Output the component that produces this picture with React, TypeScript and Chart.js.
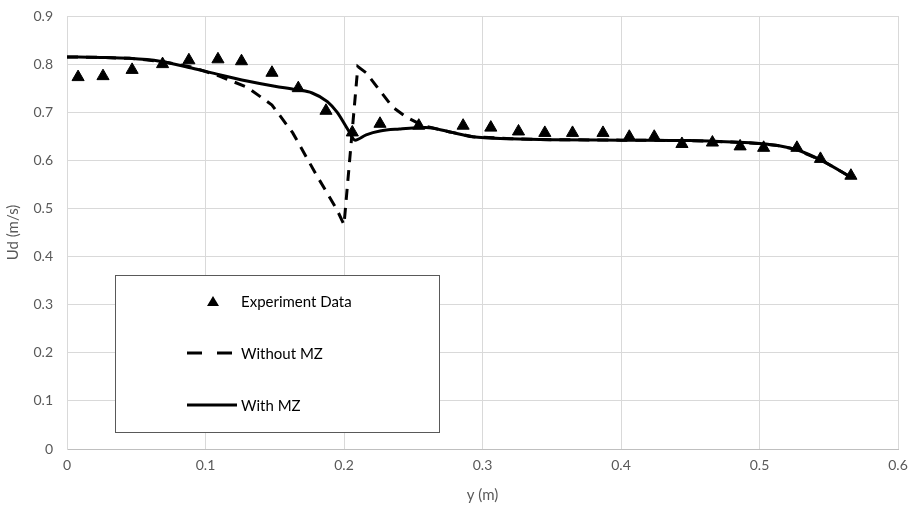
import React, { useEffect, useRef } from "react";
import { Chart, registerables } from "chart.js";
Chart.register(...registerables);

// Experiment data
const expY = [0.008, 0.026, 0.047, 0.069, 0.088, 0.109, 0.126, 0.148, 0.167, 0.187, 0.206, 0.226, 0.254, 0.286, 0.306, 0.326, 0.345, 0.365, 0.387, 0.406, 0.424, 0.444, 0.466, 0.486, 0.503, 0.527, 0.544, 0.566];
const expU = [0.773, 0.775, 0.788, 0.8, 0.808, 0.81, 0.806, 0.782, 0.75, 0.703, 0.658, 0.676, 0.672, 0.672, 0.668, 0.66, 0.657, 0.657, 0.657, 0.649, 0.649, 0.634, 0.637, 0.629, 0.626, 0.626, 0.603, 0.568];

// Without MZ
const noMzY = [0, 0.024, 0.045, 0.067, 0.09, 0.11, 0.13, 0.148, 0.163, 0.18, 0.195, 0.2, 0.21, 0.216, 0.235, 0.245, 0.257, 0.275, 0.293, 0.32, 0.35, 0.4, 0.45, 0.48, 0.5, 0.515, 0.527, 0.546, 0.566];
const noMzU = [0.815, 0.814, 0.812, 0.806, 0.794, 0.775, 0.752, 0.715, 0.657, 0.57, 0.497, 0.466, 0.795, 0.782, 0.711, 0.69, 0.672, 0.66, 0.649, 0.645, 0.643, 0.642, 0.641, 0.638, 0.635, 0.63, 0.622, 0.598, 0.565];

// With MZ
const mzY = [0, 0.024, 0.045, 0.067, 0.09, 0.11, 0.13, 0.15, 0.165, 0.177, 0.188, 0.195, 0.203, 0.208, 0.216, 0.226, 0.24, 0.259, 0.275, 0.293, 0.32, 0.35, 0.4, 0.45, 0.48, 0.5, 0.515, 0.527, 0.546, 0.566];
const mzU = [0.815, 0.814, 0.812, 0.806, 0.792, 0.778, 0.765, 0.754, 0.747, 0.74, 0.722, 0.7, 0.663, 0.642, 0.653, 0.661, 0.665, 0.668, 0.66, 0.649, 0.645, 0.643, 0.642, 0.641, 0.638, 0.635, 0.63, 0.622, 0.598, 0.565];

const legendLabels = ["Experiment Data", "Without MZ", "With MZ"];
const FONT = "Lato, 'Open Sans', sans-serif";

const toPts = (xs: number[], ys: number[]) => xs.map((x, i) => ({ x, y: ys[i] }));

const boxLegend = {
  id: "boxLegend",
  afterDraw(chart: any) {
    const ctx = chart.ctx as CanvasRenderingContext2D;
    const left = 115, top = 275, w = 324, h = 157;
    ctx.save();
    ctx.fillStyle = "#ffffff";
    ctx.fillRect(left, top, w, h);
    ctx.strokeStyle = "#595959";
    ctx.lineWidth = 1;
    ctx.strokeRect(left + 0.5, top + 0.5, w, h);
    // triangle
    ctx.fillStyle = "#000";
    ctx.beginPath();
    ctx.moveTo(213, 296);
    ctx.lineTo(219, 306);
    ctx.lineTo(207, 306);
    ctx.closePath();
    ctx.fill();
    // dashed
    ctx.strokeStyle = "#000";
    ctx.lineWidth = 3;
    ctx.beginPath();
    ctx.moveTo(187, 353); ctx.lineTo(202, 353);
    ctx.moveTo(217, 353); ctx.lineTo(232, 353);
    ctx.stroke();
    // solid
    ctx.beginPath();
    ctx.moveTo(187, 405); ctx.lineTo(237, 405);
    ctx.stroke();
    ctx.font = `15px ${FONT}`;
    ctx.textBaseline = "middle";
    ctx.fillStyle = "#000";
    ctx.fillText(legendLabels[0], 241, 302);
    ctx.fillText(legendLabels[1], 241, 354);
    ctx.fillText(legendLabels[2], 241, 406);
    ctx.restore();
  },
};

export default function App() {
  const ref = useRef<HTMLCanvasElement>(null);
  useEffect(() => {
    const chart = new Chart(ref.current!, {
      type: "scatter",
      data: {
        datasets: [
          {
            label: legendLabels[0],
            data: toPts(expY, expU),
            pointStyle: "triangle",
            pointRadius: 7,
            backgroundColor: "#000",
            borderColor: "#000",
            showLine: false,
          },
          {
            label: legendLabels[1],
            data: toPts(noMzY, noMzU),
            showLine: true,
            borderColor: "#000",
            borderWidth: 3,
            borderDash: [11, 8],
            pointRadius: 0,
            tension: 0,
          },
          {
            label: legendLabels[2],
            data: toPts(mzY, mzU),
            showLine: true,
            borderColor: "#000",
            borderWidth: 3,
            pointRadius: 0,
            cubicInterpolationMode: "monotone",
          },
        ],
      },
      options: {
        animation: false,
        responsive: false,
        maintainAspectRatio: false,
        layout: { padding: { top: 16, right: 17, left: 0, bottom: 0 } },
        plugins: { legend: { display: false }, tooltip: { enabled: false } },
        scales: {
          x: {
            type: "linear",
            min: 0,
            max: 0.6,
            ticks: { stepSize: 0.1, color: "#595959", font: { family: FONT, size: 14 }, padding: 8 },
            grid: { color: "#d9d9d9", lineWidth: 1, drawTicks: false },
            border: { color: "#bfbfbf" },
            title: { display: true, text: "y (m)", color: "#595959", font: { family: FONT, size: 15 } },
            afterFit: (s: any) => { s.height = 59; s.paddingLeft = 0; s.paddingRight = 0; },
          },
          y: {
            type: "linear",
            min: 0,
            max: 0.9,
            ticks: { stepSize: 0.1, color: "#595959", font: { family: FONT, size: 14 }, padding: 14 },
            grid: { color: "#d9d9d9", lineWidth: 1, drawTicks: false },
            border: { color: "#d9d9d9" },
            title: { display: true, text: "Ud (m/s)", color: "#595959", font: { family: FONT, size: 15 } },
            afterFit: (s: any) => { s.width = 67; s.paddingTop = 0; s.paddingBottom = 0; },
          },
        },
      },
      plugins: [boxLegend],
    } as any);
    return () => chart.destroy();
  }, []);
  return (
    <div style={{ position: "fixed", left: 0, top: 0, width: 915, height: 508, background: "#fff" }}>
      <canvas ref={ref} width={915} height={508} />
    </div>
  );
}
